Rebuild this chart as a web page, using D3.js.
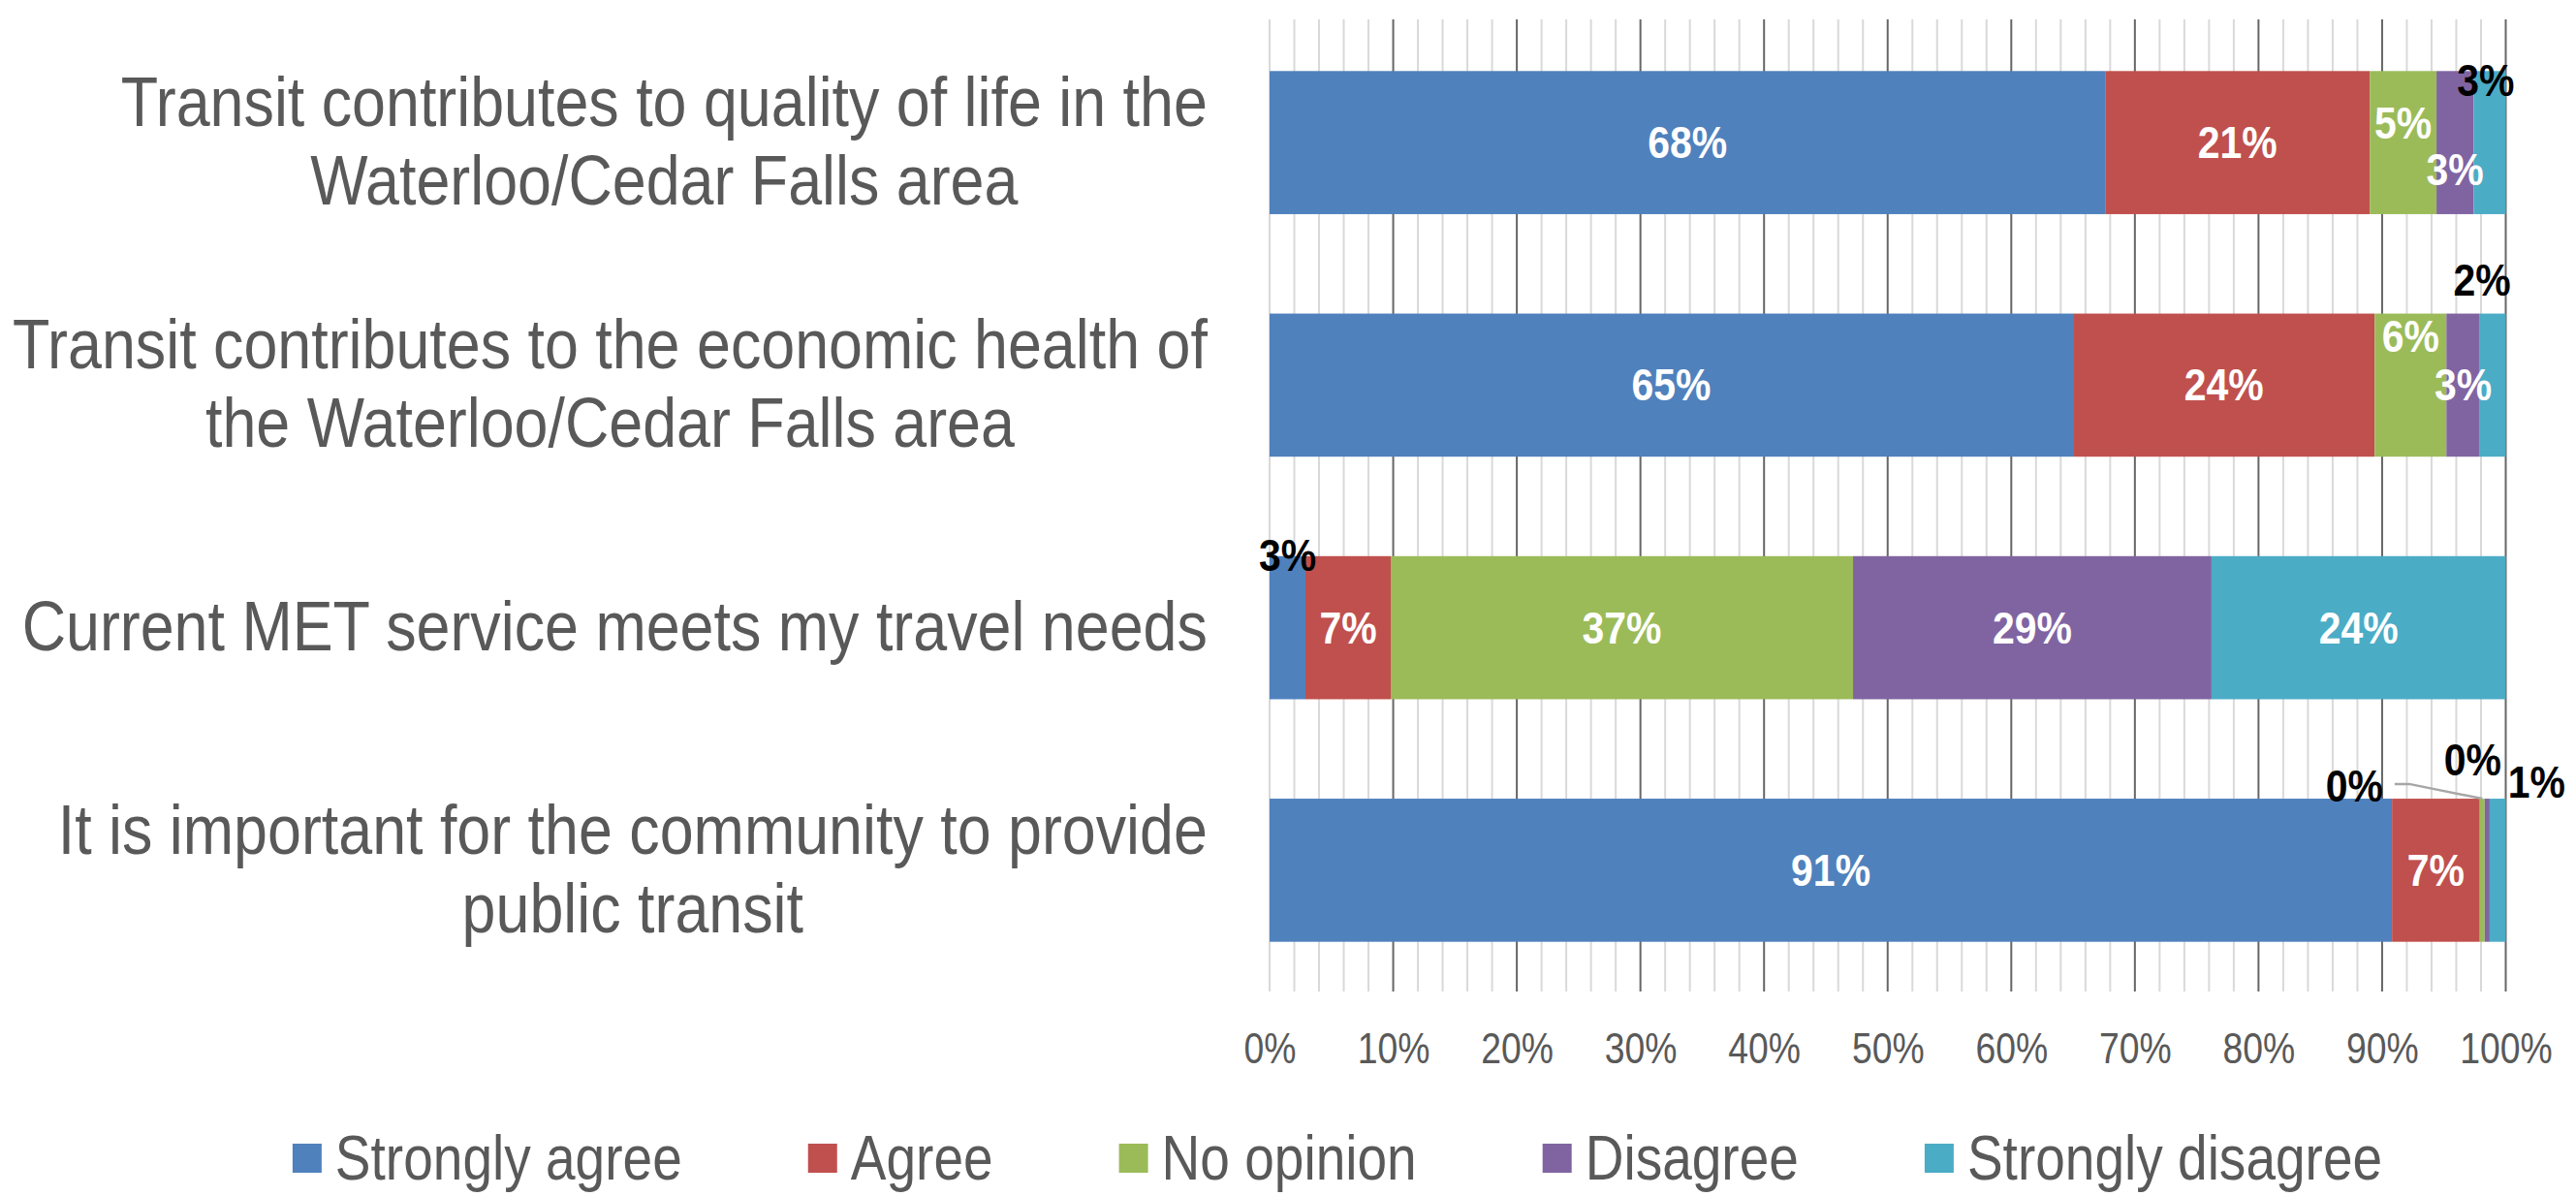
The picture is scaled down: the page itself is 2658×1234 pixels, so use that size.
<!DOCTYPE html>
<html>
<head>
<meta charset="utf-8">
<script src="https://cdn.jsdelivr.net/npm/d3@7"></script>
<style>
  body { margin: 0; background: #fff; }
  text { font-family: "Liberation Sans", Arial, sans-serif; }
</style>
</head>
<body>
<script>
// categories, top to bottom
const categories = [
  ["Transit contributes to quality of life in the", "Waterloo/Cedar Falls area"],
  ["Transit contributes to the economic health of", "the Waterloo/Cedar Falls area"],
  ["Current MET service meets my travel needs"],
  ["It is important for the community to provide", "public transit"]
];
const seriesNames = ["Strongly agree", "Agree", "No opinion", "Disagree", "Strongly disagree"];
const stronglyAgree    = [67.6, 65.0, 2.9, 90.8];
const agree            = [21.4, 24.4, 6.9, 7.1];
const noOpinion        = [5.4, 5.8, 37.4, 0.4];
const disagree         = [3.0, 2.7, 29.0, 0.4];
const stronglyDisagree = [2.6, 2.1, 23.8, 1.3];
const tickValues = [0, 10, 20, 30, 40, 50, 60, 70, 80, 90, 100];

const colors = ["#4F81BD", "#C0504D", "#9BBB59", "#8064A2", "#4BACC6"];

// label nudges (row, series) -> offset from segment centre, dark labels sit outside
const labelNudge = [
  { r: 0, s: 2, dx: 0, dy: -20 },
  { r: 0, s: 3, dx: 0, dy: 28 },
  { r: 0, s: 4, dx: -4, dy: -64, dark: true },
  { r: 1, s: 2, dx: 0, dy: -50 },
  { r: 1, s: 4, dx: -11, dy: -108, dark: true },
  { r: 2, s: 0, dx: 0, dy: -75, dark: true },
  { r: 3, s: 2, dx: -132, dy: -87, dark: true, leader: true },
  { r: 3, s: 3, dx: -15, dy: -114, dark: true },
  { r: 3, s: 4, dx: 40, dy: -91, dark: true }
];

const W = 2658, H = 1234;
const textGray = "#595959";

// the original font is a narrow one, so squeeze text horizontally around its anchor
function squeeze(sel, sx, cx) {
  sel.attr("transform", function(d) {
    const c = cx != null ? cx : +d3.select(this).attr("x");
    return `translate(${c * (1 - sx)},0) scale(${sx},1)`;
  });
}

const svg = d3.select("body").append("svg")
  .attr("width", W)
  .attr("height", H);

const x = d3.scaleLinear().domain([0, 100]).range([1310, 2585.5]);
const y = d3.scaleBand()
  .domain(d3.range(categories.length))
  .range([22, 1023])
  .paddingInner(0.41)
  .paddingOuter(0.205);

// gridlines: minor every 2%, major every 10%
const minor = d3.range(0, 101, 2).filter(v => v % 10 !== 0 || v === 0);
svg.append("g").selectAll("line")
  .data(minor)
  .enter().append("line")
    .attr("x1", d => x(d)).attr("x2", d => x(d))
    .attr("y1", 20).attr("y2", 1023)
    .attr("stroke", "#d9d9d9")
    .attr("stroke-width", 2);
svg.append("g").selectAll("line")
  .data(tickValues.filter(v => v > 0))
  .enter().append("line")
    .attr("x1", d => x(d)).attr("x2", d => x(d))
    .attr("y1", 20).attr("y2", 1023)
    .attr("stroke", "#666666")
    .attr("stroke-width", 2);

// x axis labels
const xAxis = d3.axisBottom(x)
  .tickValues(tickValues)
  .tickFormat(d => d + "%")
  .tickSize(0)
  .tickPadding(0);
const gx = svg.append("g")
  .attr("transform", "translate(0,1064)")
  .call(xAxis);
gx.select(".domain").remove();
gx.selectAll("text")
  .attr("y", 33)
  .attr("dy", 0)
  .attr("fill", textGray)
  .style("font-size", "45px")
  .style("font-family", "'Liberation Sans', Arial, sans-serif")
  .attr("transform", "scale(0.83,1)");

// stacked data
const table = categories.map((c, i) => ({
  i: i,
  v: [stronglyAgree[i], agree[i], noOpinion[i], disagree[i], stronglyDisagree[i]]
}));
const stack = d3.stack()
  .keys(d3.range(seriesNames.length))
  .value((d, k) => d.v[k]);
const layers = stack(table);

svg.append("g").selectAll("g")
  .data(layers)
  .enter().append("g")
    .attr("fill", (d, k) => colors[k])
  .selectAll("rect")
  .data(d => d)
  .enter().append("rect")
    .attr("x", d => x(d[0]))
    .attr("width", d => x(d[1]) - x(d[0]))
    .attr("y", d => y(d.data.i))
    .attr("height", y.bandwidth());

// data labels
const labels = [];
layers.forEach((layer, k) => {
  layer.forEach(d => {
    const n = labelNudge.find(a => a.r === d.data.i && a.s === k) || { dx: 0, dy: 0 };
    labels.push({
      r: d.data.i, s: k,
      text: Math.round(d.data.v[k]) + "%",
      cx: (x(d[0]) + x(d[1])) / 2,
      top: y(d.data.i),
      lx: (x(d[0]) + x(d[1])) / 2 + n.dx,
      ly: y(d.data.i) + y.bandwidth() / 2 + n.dy,
      dark: !!n.dark,
      leader: !!n.leader
    });
  });
});

const labelSx = 0.89;
const lg = svg.append("g");
lg.selectAll("text")
  .data(labels)
  .enter().append("text")
    .attr("x", d => d.lx)
    .attr("y", d => d.ly)
    .attr("dy", "0.35em")
    .attr("text-anchor", "middle")
    .attr("fill", d => d.dark ? "#000" : "#fff")
    .style("font-size", "46px")
    .style("font-weight", "bold")
    .text(d => d.text)
    .each(function(d) { d.w = this.getComputedTextLength() * labelSx; })
    .call(squeeze, labelSx);

labels.filter(d => d.leader).forEach(d => {
  const sx = d.lx + d.w / 2 + 12;
  svg.append("path")
    .attr("d", `M${sx},${d.ly - 2}L${sx + 15},${d.ly - 2}L${d.cx},${d.top}`)
    .attr("fill", "none")
    .attr("stroke", "#a6a6a6")
    .attr("stroke-width", 2.5);
});

// category labels, centred lines inside a right-aligned block
const catSx = 0.872;
const cg = svg.append("g");
categories.forEach((lines, i) => {
  const t = cg.append("text")
    .attr("text-anchor", "middle")
    .attr("fill", textGray)
    .style("font-size", "72px");
  const lh = 81;
  const c = y(i) + y.bandwidth() / 2 - 2;
  lines.forEach((ln, j) => {
    t.append("tspan")
      .attr("y", c + (j - (lines.length - 1) / 2) * lh)
      .attr("dy", "0.35em")
      .text(ln);
  });
  let maxW = 0;
  t.selectAll("tspan").each(function() { maxW = Math.max(maxW, this.getComputedTextLength() * catSx); });
  const cx = 1246 - maxW / 2;
  t.selectAll("tspan").attr("x", cx);
  t.call(squeeze, catSx, cx);
});

// legend
const legSx = 0.86;
const leg = svg.append("g");
const items = leg.selectAll("g")
  .data(seriesNames)
  .enter().append("g");
items.append("rect")
  .attr("width", 30).attr("height", 30)
  .attr("y", 1180)
  .attr("fill", (d, k) => colors[k]);
items.append("text")
  .attr("x", 44)
  .attr("y", 1195)
  .attr("dy", "0.35em")
  .attr("fill", textGray)
  .style("font-size", "64px")
  .text(d => d)
  .call(squeeze, legSx);
let pos = 0;
const offs = [];
items.each(function() {
  offs.push(pos);
  pos += 44 + d3.select(this).select("text").node().getComputedTextLength() * legSx + 130;
});
const total = pos - 130;
const start = 1380 - total / 2;
items.attr("transform", (d, k) => `translate(${start + offs[k]},0)`);
</script>
</body>
</html>
